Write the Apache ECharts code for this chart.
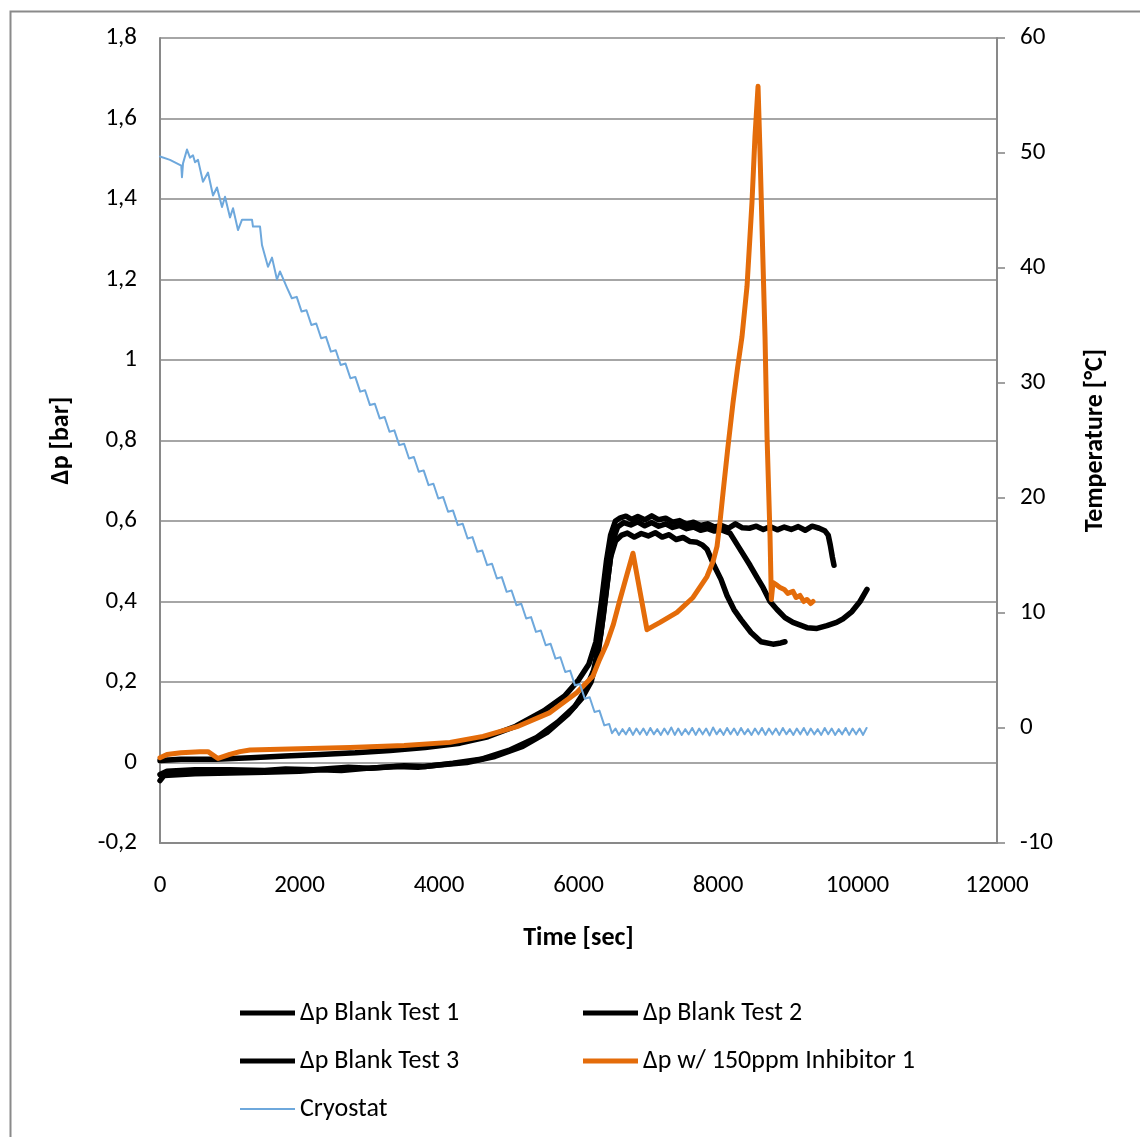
<!DOCTYPE html>
<html>
<head>
<meta charset="utf-8">
<script src="https://cdn.jsdelivr.net/npm/echarts@6/dist/echarts.min.js"></script>
<style>
html,body{margin:0;padding:0;background:#fff;}
#c{width:1140px;height:1137px;}
</style>
</head>
<body>
<div id="c"></div>
<script>
// tick values
const xTicks = [0, 2000, 4000, 6000, 8000, 10000, 12000];
const leftTicks = [-0.2, 0, 0.2, 0.4, 0.6, 0.8, 1, 1.2, 1.4, 1.6, 1.8];
const rightTicks = [-10, 0, 10, 20, 30, 40, 50, 60];

const seriesNames = ['Δp Blank Test 1', 'Δp Blank Test 2', 'Δp Blank Test 3', 'Δp w/ 150ppm Inhibitor 1', 'Cryostat'];

// [time s, Δp bar]
const blank1 = [[0,0.005],[300,0.008],[800,0.008],[1300,0.012],[1800,0.016],[2300,0.02],[2800,0.024],[3300,0.03],[3800,0.037],[4300,0.048],[4700,0.064],[5100,0.09],[5500,0.128],[5800,0.165],[6000,0.205],[6150,0.245],[6250,0.3],[6330,0.4],[6400,0.5],[6460,0.565],[6530,0.6],[6600,0.608],[6680,0.612],[6760,0.604],[6850,0.611],[6950,0.603],[7050,0.613],[7150,0.603],[7250,0.607],[7350,0.597],[7450,0.601],[7550,0.592],[7650,0.597],[7750,0.589],[7850,0.593],[7950,0.585],[8050,0.589],[8150,0.582],[8250,0.593],[8350,0.583],[8450,0.582],[8550,0.587],[8650,0.579],[8750,0.586],[8850,0.578],[8950,0.585],[9050,0.579],[9150,0.586],[9250,0.577],[9350,0.587],[9450,0.582],[9530,0.576],[9580,0.565],[9610,0.54],[9640,0.51],[9663,0.49]];

const blank2 = [[0,-0.03],[100,-0.022],[500,-0.018],[1000,-0.018],[1500,-0.02],[1800,-0.016],[2200,-0.018],[2700,-0.012],[3000,-0.014],[3500,-0.008],[3800,-0.01],[4200,-0.002],[4600,0.008],[5000,0.03],[5400,0.062],[5700,0.1],[5950,0.14],[6100,0.18],[6220,0.23],[6320,0.32],[6400,0.43],[6460,0.51],[6530,0.55],[6620,0.565],[6700,0.57],[6800,0.56],[6900,0.569],[7000,0.563],[7100,0.571],[7200,0.56],[7300,0.566],[7400,0.554],[7500,0.559],[7600,0.549],[7700,0.547],[7780,0.54],[7842,0.53],[7942,0.49],[8043,0.455],[8129,0.415],[8229,0.38],[8330,0.355],[8473,0.323],[8617,0.3],[8789,0.294],[8900,0.297],[8960,0.3]];

const blank3 = [[0,-0.045],[60,-0.032],[500,-0.028],[1000,-0.026],[1500,-0.024],[2000,-0.022],[2300,-0.018],[2600,-0.02],[3000,-0.014],[3400,-0.01],[3700,-0.012],[4000,-0.006],[4400,0.0],[4800,0.015],[5200,0.04],[5550,0.075],[5850,0.12],[6050,0.16],[6180,0.2],[6280,0.27],[6360,0.37],[6430,0.47],[6490,0.55],[6560,0.585],[6650,0.596],[6750,0.59],[6850,0.598],[6950,0.588],[7050,0.596],[7150,0.587],[7250,0.593],[7350,0.584],[7450,0.589],[7550,0.581],[7650,0.585],[7750,0.577],[7850,0.581],[7950,0.575],[8050,0.578],[8172,0.57],[8315,0.53],[8459,0.49],[8559,0.46],[8645,0.435],[8746,0.4],[8846,0.38],[8960,0.36],[9075,0.348],[9276,0.335],[9419,0.333],[9562,0.34],[9700,0.348],[9792,0.357],[9921,0.375],[10036,0.4],[10136,0.43]];

const inhibitor = [[0,0.012],[100,0.02],[300,0.024],[573,0.027],[688,0.027],[832,0.01],[1000,0.02],[1147,0.027],[1290,0.031],[2000,0.034],[2724,0.037],[3500,0.042],[4158,0.05],[4631,0.065],[5118,0.089],[5591,0.124],[5978,0.174],[6207,0.215],[6300,0.255],[6400,0.293],[6500,0.343],[6595,0.405],[6695,0.467],[6781,0.52],[6982,0.33],[7169,0.348],[7412,0.373],[7642,0.41],[7842,0.462],[7930,0.5],[7986,0.537],[8030,0.6],[8072,0.67],[8140,0.78],[8215,0.894],[8280,0.98],[8344,1.058],[8416,1.183],[8487,1.391],[8530,1.555],[8574,1.68],[8602,1.516],[8674,1.058],[8703,0.81],[8746,0.561],[8765,0.405],[8789,0.447],[8850,0.44],[8889,0.435],[8950,0.43],[9000,0.42],[9075,0.425],[9120,0.41],[9176,0.415],[9230,0.4],[9276,0.405],[9330,0.395],[9362,0.4]];

// [time s, temperature °C]
const cryostat = [[0,49.7],[143,49.4],[305,48.9],[315,47.9],[330,49.1],[387,50.3],[430,49.6],[473,49.8],[502,49.2],[545,49.4],[616,47.5],[688,48.3],[760,46.3],[817,47.0],[889,45.3],[932,46.2],[1004,44.4],[1047,45.2],[1118,43.3],[1176,44.2],[1319,44.2],[1333,43.6],[1434,43.6],[1462,42.0],[1548,40.1],[1606,40.9],[1677,39.0],[1720,39.7],[1820,38.3],
[1890,37.37],[1960,37.49],[2030,36.21],[2100,36.33],[2170,35.05],[2240,35.17],[2310,33.89],[2380,34.01],[2450,32.73],[2520,32.85],[2590,31.57],[2660,31.69],[2730,30.41],[2800,30.53],[2870,29.25],[2940,29.37],[3010,28.08],[3080,28.20],[3150,26.92],[3220,27.04],[3290,25.76],[3360,25.88],[3430,24.60],[3500,24.72],[3570,23.44],[3640,23.56],[3710,22.28],[3780,22.40],[3850,21.12],[3920,21.24],[3990,19.96],[4060,20.08],[4130,18.80],[4200,18.92],[4270,17.64],[4340,17.76],[4410,16.48],[4480,16.60],[4550,15.32],[4620,15.44],[4690,14.16],[4760,14.28],[4830,13.00],[4900,13.12],[4970,11.84],[5040,11.96],[5110,10.68],[5180,10.80],[5250,9.52],[5320,9.64],[5390,8.36],[5460,8.48],[5530,7.20],[5600,7.32],[5670,6.03],[5740,6.15],[5810,4.87],[5880,4.99],[5950,3.71],[6020,3.83],[6090,2.55],[6160,2.67],[6230,1.39],[6300,1.51],[6370,0.23],[6440,0.35],[6480,-0.45],
[6530,-0.05],[6580,-0.60],[6630,-0.10],[6680,-0.55],[6730,0.00],[6780,-0.60],[6830,-0.05],[6880,-0.55],[6930,-0.05],[6980,-0.60],[7030,0.00],[7080,-0.55],[7130,-0.10],[7180,-0.60],[7230,-0.05],[7280,-0.55],[7330,0.05],[7380,-0.60],[7430,-0.05],[7480,-0.60],[7530,-0.10],[7580,-0.55],[7630,0.00],[7680,-0.60],[7730,-0.05],[7780,-0.55],[7830,-0.05],[7880,-0.65],[7930,0.05],[7980,-0.55],[8030,-0.10],[8080,-0.60],[8130,0.00],[8180,-0.55],[8230,-0.05],[8280,-0.60],[8330,0.00],[8380,-0.55],[8430,-0.10],[8480,-0.60],[8530,-0.05],[8580,-0.55],[8630,0.00],[8680,-0.60],[8730,-0.05],[8780,-0.55],[8830,-0.05],[8880,-0.60],[8930,0.00],[8980,-0.55],[9030,-0.10],[9080,-0.60],[9130,-0.05],[9180,-0.55],[9230,0.00],[9280,-0.60],[9330,-0.05],[9380,-0.55],[9430,-0.10],[9480,-0.60],[9530,0.00],[9580,-0.55],[9630,-0.05],[9680,-0.60],[9730,-0.10],[9780,-0.55],[9830,0.00],[9880,-0.60],[9930,-0.05],[9980,-0.55],[10030,-0.05],[10080,-0.60],[10130,0.00]];

const FONT = 'Carlito, Calibri, Lato, sans-serif';
const GRID_COLOR = '#898989';
const TICK_SIZE = 25;
const LEGEND_SIZE = 26;
const TITLE_SIZE = 26;

const chart = echarts.init(document.getElementById('c'), null, {renderer: 'canvas'});

function lineSeries(name, data, color, width, yIdx) {
  return {
    name: name, type: 'line', data: data, yAxisIndex: yIdx,
    symbol: 'none', smooth: false, animation: false,
    lineStyle: {color: color, width: width, cap: 'round', join: 'round'},
    itemStyle: {color: color},
    emphasis: {disabled: true}
  };
}

function legendItem(name, left, top, h) {
  return {
    data: [name], left: left, top: top, orient: 'horizontal', padding: 0,
    icon: 'rect', itemWidth: 55, itemHeight: h,
    textStyle: {fontFamily: FONT, fontSize: LEGEND_SIZE, color: '#000'},
    selectedMode: false
  };
}

chart.setOption({
  backgroundColor: '#fff',
  animation: false,
  graphic: [{
    type: 'rect', left: 8, top: 9, silent: true,
    shape: {x: 0, y: 0, width: 1300, height: 1300},
    style: {fill: 'none', stroke: '#8a8a8a', lineWidth: 2}
  }],
  grid: {left: 160, right: 143, top: 38, bottom: 294, containLabel: false},
  legend: [
    legendItem(seriesNames[0], 240, 1000, 5),
    legendItem(seriesNames[1], 583, 1000, 5),
    legendItem(seriesNames[2], 240, 1048, 5),
    legendItem(seriesNames[3], 583, 1048, 5),
    legendItem(seriesNames[4], 240, 1096, 2)
  ],
  xAxis: {
    type: 'value', min: xTicks[0], max: xTicks[xTicks.length - 1], interval: xTicks[1] - xTicks[0],
    name: 'Time [sec]', nameLocation: 'middle', nameGap: 82,
    nameTextStyle: {fontFamily: FONT, fontSize: TITLE_SIZE, fontWeight: 'bold', color: '#000'},
    axisLine: {show: true, onZero: false, lineStyle: {color: GRID_COLOR, width: 2}},
    axisTick: {show: false},
    splitLine: {show: false},
    axisLabel: {fontFamily: FONT, fontSize: TICK_SIZE, color: '#000', margin: 30,
      formatter: v => String(v)}
  },
  yAxis: [{
    type: 'value', position: 'left', min: leftTicks[0], max: leftTicks[leftTicks.length - 1], interval: 0.2,
    name: 'Δp [bar]', nameLocation: 'middle', nameGap: 86, nameRotate: 90,
    nameTextStyle: {fontFamily: FONT, fontSize: TITLE_SIZE, fontWeight: 'bold', color: '#000'},
    axisLine: {show: true, lineStyle: {color: GRID_COLOR, width: 2}},
    axisTick: {show: false},
    splitLine: {show: true, lineStyle: {color: GRID_COLOR, width: 1.6}},
    axisLabel: {fontFamily: FONT, fontSize: TICK_SIZE, color: '#000', margin: 23,
      formatter: v => String(Math.round(v * 10) / 10).replace('.', ',')}
  }, {
    type: 'value', position: 'right', min: rightTicks[0], max: rightTicks[rightTicks.length - 1], interval: 10,
    name: 'Temperature [°C]', nameLocation: 'middle', nameGap: 85, nameRotate: 90,
    nameTextStyle: {fontFamily: FONT, fontSize: TITLE_SIZE, fontWeight: 'bold', color: '#000'},
    axisLine: {show: true, lineStyle: {color: GRID_COLOR, width: 2}},
    axisTick: {show: true, inside: false, length: 8, lineStyle: {color: GRID_COLOR, width: 1.6}},
    splitLine: {show: false},
    axisLabel: {fontFamily: FONT, fontSize: TICK_SIZE, color: '#000', margin: 23,
      formatter: v => String(v)}
  }],
  series: [
    lineSeries(seriesNames[0], blank1, '#000000', 5.5, 0),
    lineSeries(seriesNames[1], blank2, '#000000', 5.5, 0),
    lineSeries(seriesNames[2], blank3, '#000000', 5.5, 0),
    lineSeries(seriesNames[3], inhibitor, '#E46C0A', 5, 0),
    lineSeries(seriesNames[4], cryostat, '#6EA8DC', 2, 1)
  ]
});
</script>
</body>
</html>
